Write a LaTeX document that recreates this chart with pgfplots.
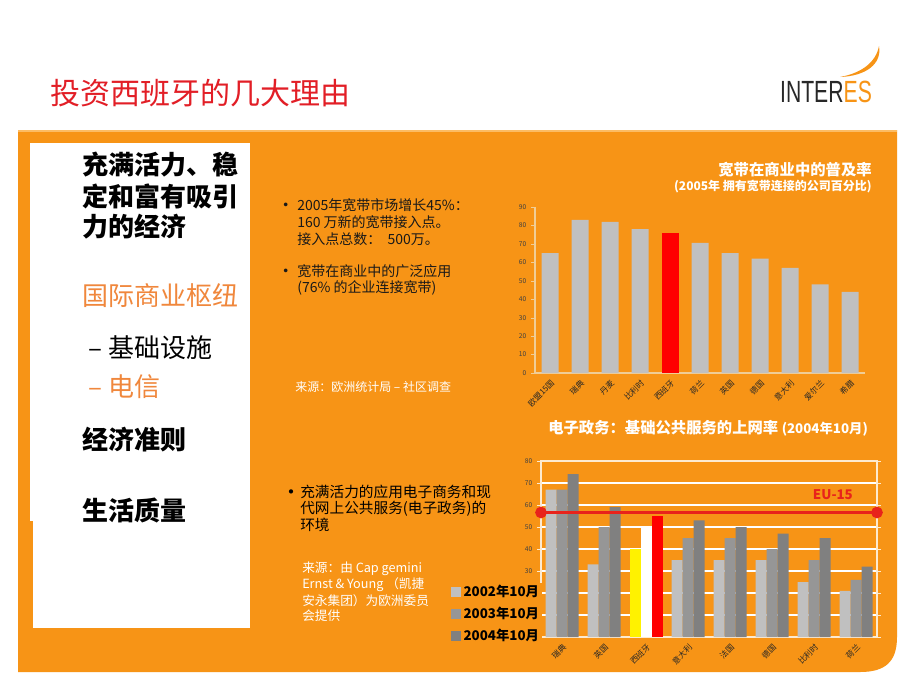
\documentclass[border=0pt]{standalone}
\usepackage{pgfplots}
\pgfplotsset{compat=1.18}
\usepackage{fontspec}
\setmainfont{Noto Sans CJK SC}
\newfontfamily\logofont{Liberation Sans}
\definecolor{panel}{RGB}{247,148,22}
\definecolor{panellight}{RGB}{252,188,100}
\definecolor{titlered}{RGB}{226,30,38}
\definecolor{hub}{RGB}{240,135,60}
\definecolor{g1}{RGB}{192,192,192}
\definecolor{g2}{RGB}{150,150,150}
\definecolor{g3}{RGB}{128,128,128}
\definecolor{axl}{RGB}{240,205,150}
\definecolor{eured}{RGB}{232,35,27}
\definecolor{logogray}{RGB}{40,40,40}
\pgfplotsset{sqlegend/.style={legend image code/.code={\fill[##1] (0pt,-3.9pt) rectangle (7.8pt,3.9pt);}}}
\begin{document}
\begin{tikzpicture}
\begin{scope}[x=0.75pt,y=-0.75pt]
\useasboundingbox (0,0) rectangle (920,690);
\fill[white] (0,0) rectangle (920,690);
% title
\node[anchor=west, text=titlered, font=\fontsize{22.5}{26}\selectfont, inner sep=0] at (50,93) {投资西班牙的几大理由};
% logo
\fill[panel] (879,46) .. controls (882,64) and (866,76) .. (840,77) .. controls (862,73) and (876,62) .. (879,46) -- cycle;
\node[anchor=center, inner sep=0] at (826,92) {\scalebox{0.69}[1]{\logofont\fontsize{23}{24}\selectfont\textcolor{logogray}{INTER}\textcolor{panel}{ES}}};
% orange panel
\fill[panel] (18,130) -- (897,130) -- (897,637) .. controls (897,662) and (885,672) .. (860,672) -- (18,672) -- cycle;
\draw[panellight, line width=1.5pt] (18,130.5) -- (897,130.5);
% left white box
\fill[white] (33,143) rectangle (250,628);
\fill[white] (30,143) rectangle (33,521);
% left texts
\begin{scope}[every node/.style={anchor=west, inner sep=0, font=\fontsize{19.5}{23}\selectfont}]
\node at (82,165) {\bfseries 充满活力、稳};
\node at (82,196) {\bfseries 定和富有吸引};
\node at (82,227) {\bfseries 力的经济};
\node[text=hub] at (82,296) {国际商业枢纽};
\node at (88,348) {– 基础设施};
\node[text=hub] at (88,387) {– 电信};
\node at (82,440) {\bfseries 经济准则};
\node at (82,510) {\bfseries 生活质量};
\end{scope}
% middle texts
\begin{scope}[every node/.style={anchor=west, inner sep=0, font=\fontsize{10.5}{12}\selectfont, text=black!90}]
\node[font=\fontsize{13}{13}\selectfont] at (277,207) {•};
\node at (297,205) {2005年宽带市场增长45\%：};
\node at (297,222) {160 万新的宽带接入点。};
\node at (297,239) {接入点总数：\ \ 500万。};
\node[font=\fontsize{13}{13}\selectfont] at (277,273) {•};
\node at (297,271) {宽带在商业中的广泛应用};
\node at (297,288) {(76\% 的企业连接宽带)};
\end{scope}
\node[anchor=west, inner sep=0, text=white, font=\fontsize{9}{11}\selectfont] at (295,387) {来源：欧洲统计局 – 社区调查};
\begin{scope}[every node/.style={anchor=west, inner sep=0, font=\fontsize{11}{13}\selectfont, text=black}]
\node[font=\fontsize{15}{15}\selectfont] at (281,495) {•};
\node at (300,492) {充满活力的应用电子商务和现};
\node at (300,509) {代网上公共服务(电子政务)的};
\node at (300,525) {环境};
\end{scope}
\begin{scope}[every node/.style={anchor=west, inner sep=0, font=\fontsize{9.5}{11}\selectfont, text=white}]
\node at (302,569) {来源：由 Cap gemini};
\node at (302,585) {Ernst \& Young （凯捷};
\node at (302,601) {安永集团）为欧洲委员};
\node at (302,616) {会提供};
\end{scope}
% chart titles
\node[anchor=east, inner sep=0, text=white, font=\bfseries\fontsize{11.5}{13}\selectfont] at (872,170) {宽带在商业中的普及率};
\node[anchor=east, inner sep=0, text=white, font=\bfseries\fontsize{9}{11}\selectfont] at (872,187) {(2005年 拥有宽带连接的公司百分比)};
\node[anchor=west, inner sep=0, text=white, font=\bfseries\fontsize{11.5}{13}\selectfont] at (548,428) {电子政务：基础公共服务的上网率 {\fontsize{10}{12}\selectfont(2004年10月)}};
\end{scope}

% top chart
\begin{axis}[
  at={(401.25pt,-279.75pt)}, anchor=south west,
  scale only axis, width=247.5pt, height=124.5pt,
  ymin=0, ymax=90, xmin=-0.5, xmax=10.5,
  ytick={0,10,...,90},
  xtick={0,...,10},
  xticklabels={欧盟15国,瑞典,丹麦,比利时,西班牙,荷兰,英国,德国,意大利,爱尔兰,希腊},
  x tick label style={rotate=45, anchor=north east, font=\fontsize{6}{7}\selectfont, inner sep=1pt, text=black!85},
  y tick label style={font=\fontsize{5}{6}\selectfont, text=black!75},
  /pgf/number format/assume math mode=true,
  axis x line*=bottom, axis y line*=left,
  axis line style={axl, line width=0.8pt},
  tick align=outside, major tick length=3pt,
  ytick style={axl},
  xtick style={draw=none},
  minor xtick={-0.5,0.5,...,10.5}, minor tick length=3pt,
  minor x tick style={axl},
  ybar, bar width=12.75pt,
]
\addplot[fill=g1, draw=none, bar shift=0pt] coordinates {(0,65) (1,83) (2,82) (3,78) (5,70.5) (6,65) (7,62) (8,57) (9,48) (10,44)};
\addplot[fill=red, draw=none, bar shift=0pt] coordinates {(4,76)};
\end{axis}

% bottom chart
\begin{axis}[
  at={(405.75pt,-477.75pt)}, anchor=south west,
  scale only axis, width=252pt, height=132pt,
  ymin=0, ymax=80, xmin=-0.5, xmax=7.5,
  ytick={0,10,...,80},
  yticklabels={,,,30,40,50,60,70,80},
  ymajorgrids, grid style={white, line width=0.8pt},
  axis line style={white!80!panel, line width=0.8pt},
  xtick={0,...,7},
  xticklabels={瑞典,英国,西班牙,意大利,法国,德国,比利时,荷兰},
  x tick label style={rotate=45, anchor=north east, font=\fontsize{6}{7}\selectfont, inner sep=1pt, text=black!85},
  y tick label style={font=\fontsize{5}{6}\selectfont, text=black!75},
  /pgf/number format/assume math mode=true,
  tick align=outside, major tick length=3pt,
  ytick style={white!80!panel},
  xtick style={draw=none},
  minor xtick={-0.5,0.5,...,7.5}, minor tick length=3pt,
  minor x tick style={white!80!panel},
  ybar, bar width=8.25pt, clip=false,
  legend style={at={(-0.27,-0.05)}, anchor=south west, draw=none, fill=panel,
    font=\bfseries\fontsize{10}{12}\selectfont, row sep=2.5pt, inner sep=0pt},
  legend cell align=left,
]
\addplot[fill=g1, draw=none, bar shift=-8.25pt, sqlegend] coordinates {(0,67) (1,33) (3,35) (4,35) (5,35) (6,25) (7,21)};
\addlegendentry{2002年10月}
\addplot[fill=g2, draw=none, bar shift=0pt, sqlegend] coordinates {(0,67) (1,50) (3,45) (4,45) (5,40) (6,35) (7,26)};
\addlegendentry{2003年10月}
\addplot[fill=g3, draw=none, bar shift=8.25pt, sqlegend] coordinates {(0,74) (1,59) (3,53) (4,50) (5,47) (6,45) (7,32)};
\addlegendentry{2004年10月}
\addplot[fill=yellow, draw=none, bar shift=-8.25pt, forget plot] coordinates {(2,40)};
\addplot[fill=white, draw=none, bar shift=0pt, forget plot] coordinates {(2,50)};
\addplot[fill=red, draw=none, bar shift=8.25pt, forget plot] coordinates {(2,55)};
\addplot[sharp plot, eured, line width=2.25pt, mark=*, mark size=3.2pt, mark options={fill=eured, draw=eured}, forget plot] coordinates {(-0.5,56.6) (7.5,56.6)};
\node[text=eured, font=\bfseries\fontsize{10}{12}\selectfont] at (axis cs:6.45,64.5) {EU-15};
\end{axis}
\end{tikzpicture}
\end{document}
